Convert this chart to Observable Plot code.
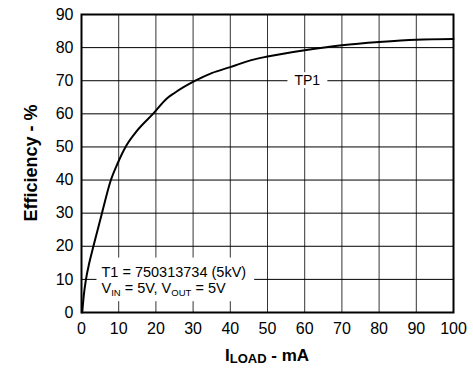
<!DOCTYPE html>
<html><head><meta charset="utf-8">
<script src="https://cdn.jsdelivr.net/npm/d3@7"></script>
<script src="https://cdn.jsdelivr.net/npm/@observablehq/plot@0.6"></script>
<style>
html,body{margin:0;padding:0;background:#fff}
svg{display:block}
</style>
</head><body><div id="chart"></div>
<script>
// ---- data ----
const loadCurrent = [0.2, 0.6, 1.2, 2.1, 3.2, 5.5, 7.9, 9.7, 12.1, 15, 19.4, 22.8, 25, 30.6, 35, 40, 45.9, 50, 60, 70, 80, 90, 100];
const efficiency  = [0,   5,   10,  15,  20,  30,  40,  45,  50.5, 55, 60.2, 64.5, 66.3, 70,  72.3, 74.1, 76.3, 77.3, 79.2, 80.7, 81.7, 82.4, 82.6];
const xTicks = [0, 10, 20, 30, 40, 50, 60, 70, 80, 90, 100];
const yTicks = [0, 10, 20, 30, 40, 50, 60, 70, 80, 90];
const seriesName = "TP1";
const seriesLabelAt = {x: 60.7, y: 70};
const noteLine1 = "T1 = 750313734 (5kV)";
const noteAt = {x: 5.5, y: 10.7};
const xLabelMain = "I", xLabelSub = "LOAD", xLabelRest = " - mA";
const yLabel = "Efficiency - %";

const data = loadCurrent.map((x, i) => ({load: x, eff: efficiency[i]}));

const font = "'Liberation Sans', Arial, Helvetica, sans-serif";

const chart = Plot.plot({
  width: 473,
  height: 371,
  marginLeft: 81,
  marginRight: 20,
  marginTop: 14,
  marginBottom: 59,
  style: {fontFamily: font, fontSize: "16px", color: "#000", background: "#fff", overflow: "visible"},
  x: {domain: [0, 100], axis: null},
  y: {domain: [0, 90], axis: null},
  marks: [
    Plot.gridX(xTicks, {stroke: "#000", strokeOpacity: 0.8, strokeWidth: 1}),
    Plot.gridY(yTicks, {stroke: "#000", strokeOpacity: 1, strokeWidth: 1}),
    Plot.text([seriesName], {x: () => seriesLabelAt.x, y: () => seriesLabelAt.y, text: d => d, fontSize: 14, fill: "#000", className: "series-label"}),
    Plot.line(data, {x: "load", y: "eff", curve: "monotone-x", stroke: "#000", strokeWidth: 2}),
    Plot.frame({stroke: "#000", strokeWidth: 2}),
    Plot.axisX(xTicks, {tickSize: 0, tickPadding: 10, label: null, fontSize: 16, fill: "#000"}),
    Plot.axisY(yTicks, {tickSize: 0, tickPadding: 8, label: null, fontSize: 16, fill: "#000"})
  ]
});

document.getElementById("chart").append(chart);

const svg = d3.select(chart);
const sx = chart.scale("x"), sy = chart.scale("y");

// white box behind the series label
svg.selectAll("g.series-label").each(function () {
  const g = d3.select(this);
  const b = this.getBBox();
  g.insert("rect", ":first-child")
    .attr("x", b.x - 7).attr("y", b.y)
    .attr("width", b.width + 14).attr("height", b.height)
    .attr("fill", "#fff").attr("stroke", "none");
});

// condition note with subscripts
const note = svg.append("g").attr("font-family", font).attr("fill", "#000").attr("text-anchor", "start");
const nx = sx.apply(noteAt.x), ny = sy.apply(noteAt.y);
const t = note.append("text").attr("font-size", 14.5).attr("text-anchor", "start");
t.append("tspan").attr("x", nx).attr("y", ny).text(noteLine1);
t.append("tspan").attr("x", nx).attr("y", ny + 16.6).text("V");
t.append("tspan").attr("font-size", 9.5).attr("dy", 2.5).text("IN");
t.append("tspan").attr("dy", -2.5).text(" = 5V, V");
t.append("tspan").attr("font-size", 9.5).attr("dy", 2.5).text("OUT");
t.append("tspan").attr("dy", -2.5).text(" = 5V");
{
  const b = t.node().getBBox();
  note.insert("rect", ":first-child")
    .attr("x", b.x - 5).attr("y", b.y - 6)
    .attr("width", b.width + 13).attr("height", b.height + 9.5)
    .attr("fill", "#fff");
}

// x-axis label
const [x0, x1] = sx.range;
const xl = svg.append("text")
  .attr("font-family", font).attr("font-weight", "bold").attr("fill", "#000")
  .attr("font-size", 17).attr("text-anchor", "middle")
  .attr("x", (x0 + x1) / 2).attr("y", 361);
xl.append("tspan").text(xLabelMain);
xl.append("tspan").attr("font-size", 13).attr("dy", 1.5).text(xLabelSub);
xl.append("tspan").attr("dy", -1.5).text(xLabelRest);

// y-axis label
const [y0, y1] = sy.range;
svg.append("text")
  .attr("font-family", font).attr("font-weight", "bold").attr("fill", "#000")
  .attr("font-size", 18).attr("text-anchor", "middle")
  .attr("transform", `translate(37,${(y0 + y1) / 2}) rotate(-90)`)
  .text(yLabel);
</script>
</body></html>
